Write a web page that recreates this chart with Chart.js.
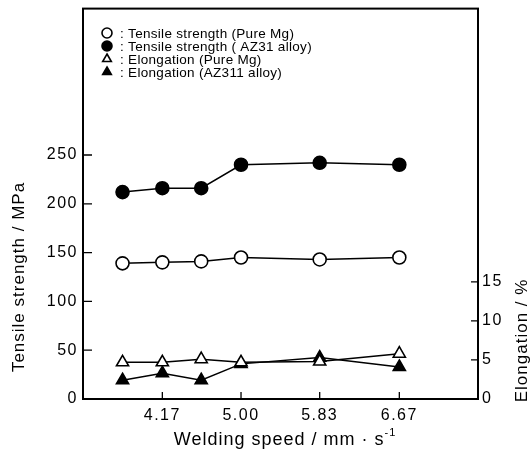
<!DOCTYPE html>
<html><head><meta charset="utf-8">
<script src="https://cdn.jsdelivr.net/npm/chart.js@4/dist/chart.umd.min.js"></script>
<style>html,body{margin:0;padding:0;background:#fff}</style>
</head><body>
<canvas id="c" width="531" height="455"></canvas>
<script>
const speeds = [3.75, 4.17, 4.58, 5.00, 5.83, 6.67];
const tensilePure = [139, 140, 141, 145, 143, 145];
const tensileAZ31 = [212, 216, 216, 240, 242, 240];
const elongPure = [4.7, 4.7, 5.1, 4.7, 4.8, 5.8];
const elongAZ31 = [2.4, 3.3, 2.4, 4.5, 5.3, 4.1];
const xTicks = [4.17, 5.00, 5.83, 6.67];
const leftTicks = [0, 50, 100, 150, 200, 250];
const rightTicks = [0, 5, 10, 15];
const seriesLabels = [': Tensile strength (Pure Mg)', ': Tensile strength ( AZ31 alloy)', ': Elongation (Pure Mg)', ': Elongation (AZ311 alloy)'];
const xTitle = 'Welding speed / mm \u00b7 s';
const xTitleSup = '-1';
const leftTitle = 'Tensile strength / MPa';
const rightTitle = 'Elongation / %';

const FONT = '"Liberation Sans", Arial, Helvetica, sans-serif';
const toPts = (xs, ys) => xs.map((x, i) => ({x: x, y: ys[i]}));

function ds(label, data, axis, style, filled, r) {
  return {
    label: label, data: toPts(speeds, data), yAxisID: axis,
    borderColor: '#000', borderWidth: 1.5, tension: 0, fill: false,
    pointStyle: style, pointRadius: r, pointHoverRadius: r,
    pointBackgroundColor: filled ? '#000' : '#fff',
    pointBorderColor: '#000', pointBorderWidth: 1.6
  };
}

const framePlugin = {
  id: 'frame',
  beforeDraw(chart) {
    chart.ctx.letterSpacing = '1.5px';
  },
  beforeDatasetsDraw(chart) {
    const ctx = chart.ctx, a = chart.chartArea;
    const sx = chart.scales.x, sy = chart.scales.y, sy2 = chart.scales.y2;
    ctx.save();
    ctx.strokeStyle = '#000';
    ctx.lineWidth = 2;
    ctx.strokeRect(a.left, a.top, a.right - a.left, a.bottom - a.top);
    ctx.lineWidth = 1.3;
    ctx.beginPath();
    xTicks.forEach(v => { const p = sx.getPixelForValue(v); ctx.moveTo(p, a.bottom); ctx.lineTo(p, a.bottom - 7); });
    leftTicks.forEach(v => { const p = sy.getPixelForValue(v); ctx.moveTo(a.left, p); ctx.lineTo(a.left + 9, p); });
    rightTicks.forEach(v => { const p = sy2.getPixelForValue(v); ctx.moveTo(a.right, p); ctx.lineTo(a.right - 7, p); });
    ctx.stroke();
    ctx.restore();
  },
  afterDraw(chart) {
    const ctx = chart.ctx;
    const sy = chart.scales.y, sy2 = chart.scales.y2;
    ctx.save();
    ctx.fillStyle = '#000';
    // legend
    const rows = [33, 46, 59, 72];
    chart.data.datasets.forEach((d, i) => {
      ctx.save();
      ctx.strokeStyle = '#000';
      ctx.fillStyle = d.pointBackgroundColor;
      ctx.lineWidth = 1.6;
      Chart.helpers.drawPoint(ctx, {pointStyle: d.pointStyle, radius: 5, borderWidth: 1.6, rotation: 0}, 107, rows[i]);
      ctx.restore();
      ctx.letterSpacing = '0.3px';
      ctx.font = '13.5px ' + FONT;
      ctx.textBaseline = 'middle';
      ctx.textAlign = 'left';
      ctx.fillText(seriesLabels[i], 120, rows[i] + 1);
    });
    // left title
    ctx.letterSpacing = '1px';
    ctx.font = '17px ' + FONT;
    ctx.textAlign = 'center';
    ctx.textBaseline = 'middle';
    ctx.save();
    ctx.translate(19, (sy.getPixelForValue(0) + sy.getPixelForValue(250)) / 2);
    ctx.rotate(-Math.PI / 2);
    ctx.fillText(leftTitle, 0, 0);
    ctx.restore();
    // right title
    ctx.save();
    ctx.translate(522, (sy2.getPixelForValue(0) + sy2.getPixelForValue(15)) / 2);
    ctx.rotate(-Math.PI / 2);
    ctx.fillText(rightTitle, 0, 0);
    ctx.restore();
    // x title
    ctx.font = '18px ' + FONT;
    const w1 = ctx.measureText(xTitle).width;
    ctx.font = '11px ' + FONT;
    const w2 = ctx.measureText(xTitleSup).width;
    const x0 = 285 - (w1 + w2) / 2;
    ctx.textAlign = 'left';
    ctx.textBaseline = 'alphabetic';
    ctx.font = '18px ' + FONT;
    ctx.fillText(xTitle, x0, 445);
    ctx.font = '11px ' + FONT;
    ctx.fillText(xTitleSup, x0 + w1, 436);
    ctx.restore();
  }
};

new Chart(document.getElementById('c'), {
  type: 'line',
  data: {
    datasets: [
      ds(seriesLabels[0], tensilePure, 'y', 'circle', false, 6.5),
      ds(seriesLabels[1], tensileAZ31, 'y', 'circle', true, 6.5),
      ds(seriesLabels[2], elongPure, 'y2', 'triangle', false, 7),
      ds(seriesLabels[3], elongAZ31, 'y2', 'triangle', true, 7)
    ]
  },
  options: {
    responsive: false,
    animation: false,
    devicePixelRatio: 1,
    layout: {padding: {top: 7, left: 0, right: 0, bottom: 0}},
    plugins: {legend: {display: false}, tooltip: {enabled: false}},
    scales: {
      x: {
        type: 'linear', min: 3.333, max: 7.5,
        afterBuildTicks: s => { s.ticks = xTicks.map(v => ({value: v})); },
        afterFit: s => { s.height = 56; s.paddingLeft = 0; s.paddingRight = 0; },
        grid: {display: false, drawTicks: false},
        border: {display: false},
        ticks: {callback: v => v.toFixed(2), color: '#000', font: {size: 16, family: FONT}, padding: 7, maxRotation: 0, autoSkip: false}
      },
      y: {
        position: 'left', min: 0, max: 400,
        afterBuildTicks: s => { s.ticks = leftTicks.map(v => ({value: v})); },
        afterFit: s => { s.width = 83; s.paddingTop = 0; s.paddingBottom = 0; },
        grid: {display: false, drawTicks: false},
        border: {display: false},
        ticks: {color: '#000', font: {size: 16, family: FONT}, padding: 5, autoSkip: false}
      },
      y2: {
        position: 'right', min: 0, max: 50,
        afterBuildTicks: s => { s.ticks = rightTicks.map(v => ({value: v})); },
        afterFit: s => { s.width = 53; s.paddingTop = 0; s.paddingBottom = 0; },
        grid: {display: false, drawTicks: false},
        border: {display: false},
        ticks: {color: '#000', font: {size: 16, family: FONT}, padding: 4, autoSkip: false}
      }
    }
  },
  plugins: [framePlugin]
});
</script>
</body></html>
